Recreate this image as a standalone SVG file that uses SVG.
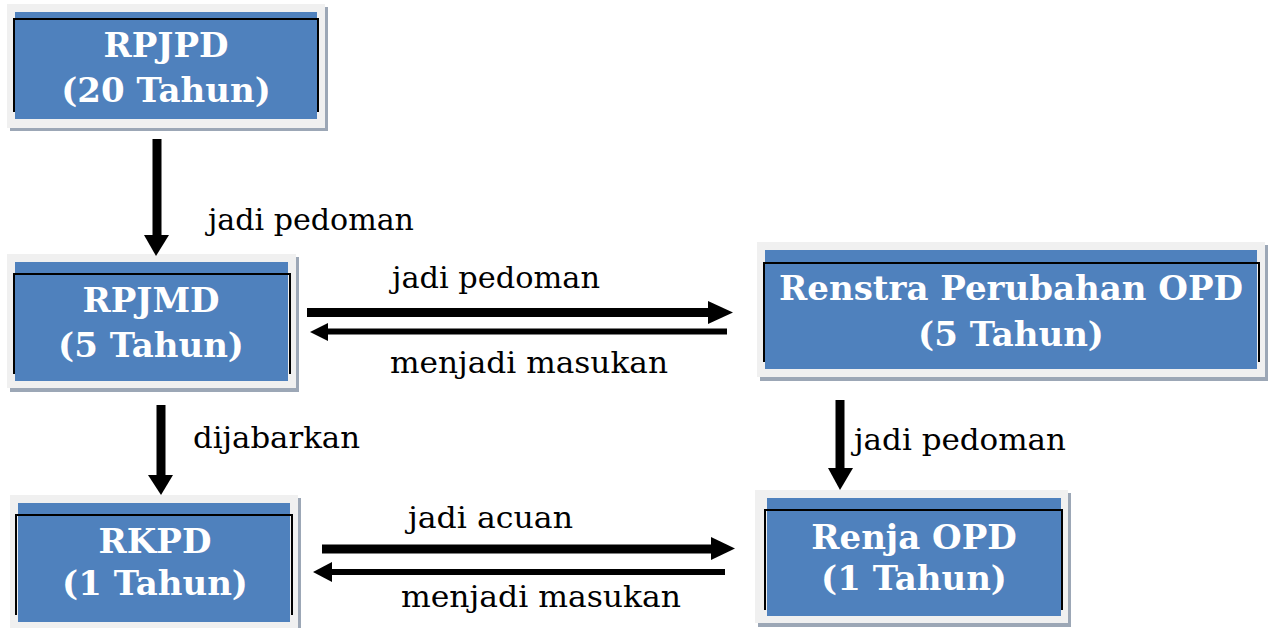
<svg xmlns="http://www.w3.org/2000/svg" width="1270" height="628" viewBox="0 0 1270 628">
<style>
.shadow{fill:#9ca7b6}
.frame{fill:#f0f0f0}
.blue{fill:#4f81bd}
.edge{fill:none;stroke:#000;stroke-width:2}
.title{font-family:"DejaVu Serif","Liberation Serif",serif;font-weight:bold;font-size:34px;fill:#fff;text-anchor:middle}
.lbl{font-family:"DejaVu Serif","Liberation Serif",serif;font-size:30px;fill:#000}
.thick{stroke:#000;stroke-width:9;fill:none}
.thin{stroke:#000;stroke-width:6;fill:none}
.head{fill:#000}
</style>
<rect width="1270" height="628" fill="#fff"/>
<g id="rpjpd">
<rect class="shadow" x="10" y="7" width="318" height="124"/>
<rect class="frame" x="7" y="4" width="318" height="124"/>
<rect class="blue" x="15" y="12" width="302" height="107"/>
<polyline class="edge" points="14,112 14,19 318,19 318,112"/>
<text class="title" x="166" y="57">RPJPD</text>
<text class="title" x="166" y="102">(20 Tahun)</text>
</g>
<g id="rpjmd">
<rect class="shadow" x="10" y="257" width="289" height="135"/>
<rect class="frame" x="7" y="254" width="289" height="134"/>
<rect class="blue" x="15" y="262" width="273" height="119"/>
<polyline class="edge" points="14,374 14,274 290,274 290,374"/>
<text class="title" x="151" y="312">RPJMD</text>
<text class="title" x="151" y="357">(5 Tahun)</text>
</g>
<g id="renstra">
<rect class="shadow" x="760" y="245" width="508" height="136"/>
<rect class="frame" x="757" y="242" width="508" height="135"/>
<rect class="blue" x="765" y="250" width="492" height="119"/>
<polyline class="edge" points="764,362 764,263 1259,263 1259,362"/>
<text class="title" x="1011" y="300">Renstra Perubahan OPD</text>
<text class="title" x="1011" y="346">(5 Tahun)</text>
</g>
<g id="rkpd">
<rect class="shadow" x="13" y="498" width="288" height="133"/>
<rect class="frame" x="10" y="495" width="288" height="133"/>
<rect class="blue" x="18" y="503" width="272" height="119"/>
<polyline class="edge" points="16,615 16,515 292,515 292,615"/>
<text class="title" x="155" y="553">RKPD</text>
<text class="title" x="155" y="595">(1 Tahun)</text>
</g>
<g id="renja">
<rect class="shadow" x="758" y="493" width="313" height="134"/>
<rect class="frame" x="755" y="490" width="313" height="133"/>
<rect class="blue" x="767" y="498" width="294" height="118"/>
<polyline class="edge" points="765,610 765,510 1062,510 1062,610"/>
<text class="title" x="914" y="549">Renja OPD</text>
<text class="title" x="914" y="590">(1 Tahun)</text>
</g>
<g id="connectors">
<line class="thick" x1="157" y1="139" x2="157" y2="236"/>
<polygon class="head" points="144,235 169,235 156,256"/>
<line class="thick" x1="161" y1="405" x2="161" y2="476"/>
<polygon class="head" points="148,475 173,475 161,495"/>
<line class="thick" x1="840" y1="400" x2="840" y2="469"/>
<polygon class="head" points="828,468 853,468 840,490"/>
<line class="thick" x1="307" y1="312.5" x2="709" y2="312.5"/>
<polygon class="head" points="708,301 708,324 733,312.5"/>
<line class="thin" x1="727" y1="331.5" x2="327" y2="331.5"/>
<polygon class="head" points="328,323 328,341 310,332"/>
<line class="thick" x1="322" y1="549" x2="712" y2="549"/>
<polygon class="head" points="711,537 711,560 735,548.5"/>
<line class="thin" x1="725" y1="572" x2="331" y2="572"/>
<polygon class="head" points="332,562 332,582 313,572"/>
</g>
<g id="labels">
<text class="lbl" x="208" y="230" textLength="206" lengthAdjust="spacingAndGlyphs">jadi pedoman</text>
<text class="lbl" x="392" y="288" textLength="208" lengthAdjust="spacingAndGlyphs">jadi pedoman</text>
<text class="lbl" x="390" y="373" textLength="278" lengthAdjust="spacingAndGlyphs">menjadi masukan</text>
<text class="lbl" x="193" y="448" textLength="167" lengthAdjust="spacingAndGlyphs">dijabarkan</text>
<text class="lbl" x="854" y="450" textLength="212" lengthAdjust="spacingAndGlyphs">jadi pedoman</text>
<text class="lbl" x="408" y="528" textLength="165" lengthAdjust="spacingAndGlyphs">jadi acuan</text>
<text class="lbl" x="401" y="607" textLength="280" lengthAdjust="spacingAndGlyphs">menjadi masukan</text>
</g>
</svg>
